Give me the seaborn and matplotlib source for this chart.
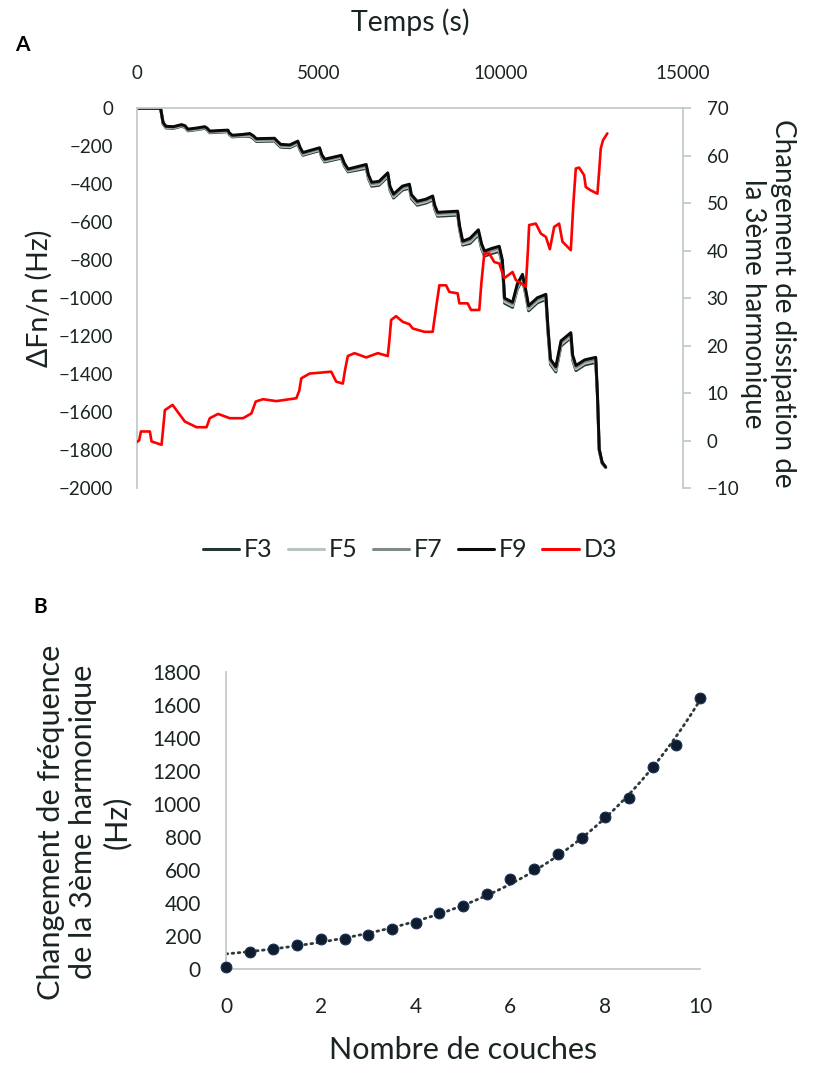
import numpy as np
import pandas as pd
import seaborn as sns
import matplotlib.pyplot as plt
from matplotlib.lines import Line2D

# --- Panel A : frequence (Hz) et dissipation en fonction du temps ---
t_freq = [0, 650, 720, 800, 1000, 1225, 1320, 1400, 1640, 1865, 1930, 2000, 2300, 2500, 2540, 2620, 2900,
          3100, 3200, 3280, 3780, 3850, 3950, 4200, 4420, 4480, 4560, 5018, 5080, 5160, 5613, 5700, 5800,
          6298, 6360, 6450, 6650, 6891, 6950, 7050, 7294, 7486, 7540, 7700, 7950, 8125, 8180, 8260, 8811, 8860, 8950,
          9150, 9380, 9470, 9550, 9750, 9953, 10040, 10100, 10318, 10450, 10592, 10680, 10760, 11000, 11234, 11290,
          11360, 11508, 11650, 11920, 11970, 12060, 12300, 12604,
          12650, 12700, 12780, 12878]

f9 = [0, 0, -75, -95, -97, -86, -92, -110, -104, -97, -105, -120, -117, -115, -130, -142, -138,
      -133, -145, -160, -158, -172, -190, -193, -173, -205, -233, -208, -245, -268, -248, -290, -320,
      -296, -350, -390, -385, -340, -410, -452, -410, -400, -455, -490, -478, -462, -510, -548, -542, -615, -700,
      -685, -640, -715, -752, -738, -727, -800, -1000, -1022, -925, -875, -955, -1040, -998, -980, -1150,
      -1322, -1362, -1225, -1182, -1300, -1355, -1325, -1312,
      -1500, -1795, -1865, -1890]
f7 = [0, 0, -78, -98, -100, -89, -95, -113, -107, -100, -108, -123, -120, -118, -133, -145, -141,
      -138, -150, -165, -163, -177, -195, -198, -178, -210, -238, -213, -250, -273, -253, -295, -325,
      -303, -357, -397, -392, -347, -417, -459, -417, -407, -462, -497, -485, -469, -517, -555, -549, -622, -707,
      -694, -649, -724, -761, -747, -736, -809, -1009, -1031, -934, -884, -964, -1049, -1007, -989, -1159,
      -1331, -1371, -1234, -1191, -1309, -1364, -1334, -1321,
      -1506, -1798, -1867, -1891]
f5 = [0, 0, -81, -101, -103, -92, -98, -116, -110, -103, -111, -126, -123, -121, -136, -148, -144,
      -143, -155, -170, -168, -182, -200, -203, -183, -215, -243, -218, -255, -278, -258, -300, -330,
      -310, -364, -404, -399, -354, -424, -466, -424, -414, -469, -504, -492, -476, -524, -562, -556, -629, -714,
      -703, -658, -733, -770, -756, -745, -818, -1018, -1040, -943, -893, -973, -1058, -1016, -998, -1168,
      -1340, -1380, -1243, -1200, -1318, -1373, -1343, -1330,
      -1512, -1801, -1869, -1892]
f3 = [0, 0, -84, -104, -106, -95, -101, -119, -113, -106, -114, -129, -126, -124, -139, -151, -147,
      -148, -160, -175, -173, -187, -205, -208, -188, -220, -248, -223, -260, -283, -263, -305, -335,
      -317, -371, -411, -406, -361, -431, -473, -431, -421, -476, -511, -499, -483, -531, -569, -563, -636, -721,
      -712, -667, -742, -779, -765, -754, -827, -1027, -1049, -952, -902, -982, -1067, -1025, -1007, -1177,
      -1349, -1389, -1252, -1209, -1327, -1382, -1352, -1339,
      -1518, -1804, -1871, -1893]

t_diss = [0, 60, 110, 356, 402, 677, 720, 768, 979, 1316, 1637, 1911, 2002, 2230, 2550, 2915, 3145, 3263,
          3463, 3830, 4379, 4460, 4515, 4743, 5338, 5475, 5657, 5720, 5794, 5977, 6298, 6617, 6891, 6940,
          6983, 7120, 7302, 7486, 7577, 7897, 8125, 8200, 8308, 8492, 8583, 8811, 8857, 9085, 9177, 9405,
          9460, 9542, 9679, 9816, 9953, 10090, 10318, 10410, 10638, 10683, 10740, 10775, 10958, 11096, 11234,
          11343, 11462, 11598, 11689, 11919, 11990, 12056, 12147, 12284, 12330, 12467, 12650, 12700, 12741,
          12805, 12923]
d3 = [-0.3, 0, 1.9, 1.9, -0.2, -0.9, 2.5, 6.4, 7.5, 4.0, 2.8, 2.8, 4.7, 5.6, 4.7, 4.7, 5.7, 8.2,
      8.7, 8.3, 8.9, 10.5, 13.1, 14.1, 14.5, 12.4, 12.0, 15.0, 17.8, 18.4, 17.5, 18.4, 17.8, 21.5,
      25.4, 26.2, 25.0, 24.5, 23.6, 22.9, 22.9, 27.0, 32.7, 32.7, 31.3, 31.0, 28.9, 28.9, 27.5, 27.5,
      33.0, 39.4, 39.4, 37.6, 37.3, 34.2, 35.5, 33.8, 32.7, 32.4, 40.0, 45.4, 45.7, 43.6, 42.9,
      40.3, 45.0, 45.7, 41.9, 40.1, 50.0, 57.3, 57.5, 55.9, 53.4, 52.7, 52.0, 57.0, 61.5,
      63.3, 64.7]

series_names = ['F3', 'F5', 'F7', 'F9']
series_colors = ['#243636', '#b9c3c1', '#7e8a88', '#0a0a0a']

# --- Panel B : changement de frequence vs nombre de couches ---
couches = [0, 0.5, 1, 1.5, 2, 2.5, 3, 3.5, 4, 4.5, 5, 5.5, 6, 6.5, 7, 7.5, 8, 8.5, 9, 9.5, 10]
delta_f3 = [12, 102, 120, 144, 181, 181, 205, 244, 281, 337, 382, 452, 544, 605, 697, 794, 921, 1035, 1223, 1355, 1644]

sns.set_theme(style="white")
plt.rcParams['font.family'] = ['Lato', 'DejaVu Sans']
txt = '#1b2424'
spine_col = '#c3cbc9'

fig = plt.figure(figsize=(8.15, 10.88), dpi=100)

# ---------------- A ----------------
ax = fig.add_axes([0.168, 0.5515, 0.670, 0.349])
df_f = pd.DataFrame({'t': t_freq, 'F3': f3, 'F5': f5, 'F7': f7, 'F9': f9})
df_long = df_f.melt(id_vars='t', var_name='serie', value_name='df')
sns.lineplot(data=df_long, x='t', y='df', hue='serie', hue_order=series_names,
             palette=dict(zip(series_names, series_colors)), linewidth=2.1, legend=False, ax=ax)
ax.set_xlim(0, 15000)
ax.set_ylim(-2000, 0)
ax.set_xticks([0, 5000, 10000, 15000])
ax.set_yticks(np.arange(-2000, 1, 200))
ax.xaxis.tick_top()
ax.xaxis.set_label_position('top')
ax.tick_params(axis='both', length=0, labelsize=13.5, labelcolor=txt)
ax.tick_params(axis='x', pad=19)
ax.tick_params(axis='y', pad=17)
ax.set_xlabel('Temps (s)', fontsize=20.5, color=txt, va='center', ha='center')
ax.xaxis.set_label_coords(0.5, 1.226)
ax.set_ylabel('ΔFn/n (Hz)', fontsize=20.5, color=txt, va='center', ha='center')
ax.yaxis.set_label_coords(-0.178, 0.5)
for s in ['right', 'bottom']:
    ax.spines[s].set_visible(False)
for s in ['left', 'top']:
    ax.spines[s].set_color(spine_col)
    ax.spines[s].set_linewidth(1.3)

ax2 = ax.twinx()
sns.lineplot(x=t_diss, y=d3, color='#ff0000', linewidth=1.9, ax=ax2)
ax2.set_ylim(-10, 70)
ax2.set_yticks(np.arange(-10, 71, 10))
ax2.tick_params(axis='y', length=6, width=1.3, color=spine_col, labelsize=13.5, labelcolor=txt, pad=11)
ax2.set_ylabel('Changement de dissipation de\nla 3ème harmonique', fontsize=20, color=txt,
               rotation=270, multialignment='center', va='center', ha='center')
ax2.yaxis.set_label_coords(1.156, 0.485)
for s in ['left', 'top', 'bottom']:
    ax2.spines[s].set_visible(False)
ax2.spines['right'].set_color(spine_col)
ax2.spines['right'].set_linewidth(1.3)

handles = [Line2D([], [], color=c, lw=2.2) for c in series_colors] + [Line2D([], [], color='#ff0000', lw=2.2)]
fig.legend(handles, series_names + ['D3'], loc='center', bbox_to_anchor=(0.503, 0.4945), ncol=5,
           frameon=False, fontsize=18, handlelength=1.45, handletextpad=0.2, columnspacing=0.6,
           labelcolor=txt)

fig.text(0.027, 0.959, 'A', fontsize=15, fontweight='bold', color='black', ha='center', va='center')
fig.text(0.049, 0.442, 'B', fontsize=15, fontweight='bold', color='black', ha='center', va='center')

# ---------------- B ----------------
bx = fig.add_axes([0.2773, 0.1094, 0.5816, 0.273])
xs = np.array(couches)
ys = np.array(delta_f3)
mask = xs > 0
k, b = np.polyfit(xs[mask], np.log(ys[mask]), 1)
xfit = np.linspace(0, 10, 200)
sns.lineplot(x=xfit, y=np.exp(b + k * xfit), color='#2c3a3a', linewidth=2,
             linestyle=(0, (0.6, 1.6)), ax=bx)
bx.lines[-1].set_dash_capstyle('round')
sns.scatterplot(x=couches, y=delta_f3, color='#0f1c2b', edgecolor='#1a2f5a', linewidth=0.8,
                s=60, zorder=3, clip_on=False, ax=bx)
bx.set_xlim(0, 10)
bx.set_ylim(0, 1800)
bx.set_xticks(np.arange(0, 11, 2))
bx.set_yticks(np.arange(0, 1801, 200))
bx.tick_params(axis='both', length=0, labelsize=15, labelcolor=txt)
bx.tick_params(axis='y', pad=18)
bx.tick_params(axis='x', pad=20)
bx.set_xlabel('Nombre de couches', fontsize=22, color=txt, va='center', ha='center')
bx.xaxis.set_label_coords(0.5, -0.273)
bx.set_ylabel('Changement de fréquence\nde la 3ème harmonique\n(Hz)', fontsize=22, color=txt,
              multialignment='center', va='center', ha='center')
bx.yaxis.set_label_coords(-0.30, 0.495)
for s in ['top', 'right']:
    bx.spines[s].set_visible(False)
for s in ['left', 'bottom']:
    bx.spines[s].set_color(spine_col)
    bx.spines[s].set_linewidth(1.3)

fig.savefig('out.png', dpi=100)
